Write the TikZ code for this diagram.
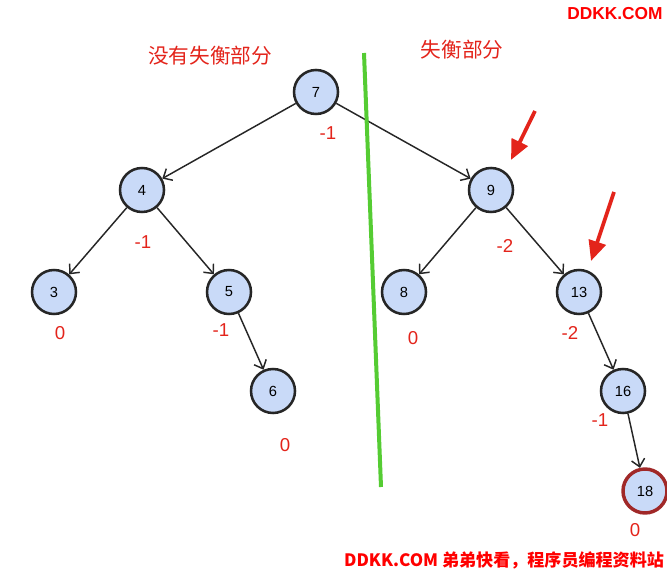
\documentclass[tikz,border=0pt]{standalone}
\usepackage{fontspec}
\setmainfont{Liberation Sans}
\newfontfamily\cjk{Noto Sans CJK SC}
\usetikzlibrary{arrows.meta, positioning}
\definecolor{nodeblue}{HTML}{C9DAF8}
\definecolor{balred}{HTML}{E3241B}
\definecolor{cutgreen}{HTML}{55CC33}
\definecolor{brickred}{HTML}{A02828}

\begin{document}
\begin{tikzpicture}[x=0.75pt, y=-0.75pt,
    avl/.style={circle, draw=black!85, fill=nodeblue, line width=1.9pt,
      minimum size=33pt, inner sep=0pt, font=\fontsize{11}{13}\selectfont},
    bal/.style={text=balred, font=\fontsize{14}{16}\selectfont},
    edge/.style={-{Straight Barb[length=5.5pt, width=10pt]}, line width=1.1pt, black!85},
    hint/.style={-{Triangle[length=15pt, width=13pt]}, line width=2.8pt, balred}]

    \useasboundingbox (0,0) rectangle (667,570);

    %% ── Tree nodes ────────────────────────────────────────────────────────
    \node[avl] (n7)  at (316, 92)  {7};
    \node[avl] (n4)  at (142,190)  {4};
    \node[avl] (n3)  at (54, 292)  {3};
    \node[avl] (n5)  at (229,292)  {5};
    \node[avl] (n6)  at (273,391)  {6};
    \node[avl] (n9)  at (491,190)  {9};
    \node[avl] (n8)  at (404,292)  {8};
    \node[avl] (n13) at (579,292)  {13};
    \node[avl] (n16) at (623,391)  {16};
    \node[avl, draw=brickred, line width=2.6pt] (n18) at (645,491) {18};

    %% Edges
    \draw[edge] (n7) -- (n4);
    \draw[edge] (n7) -- (n9);
    \draw[edge] (n4) -- (n3);
    \draw[edge] (n4) -- (n5);
    \draw[edge] (n5) -- (n6);
    \draw[edge] (n9) -- (n8);
    \draw[edge] (n9) -- (n13);
    \draw[edge] (n13) -- (n16);
    \draw[edge] (n16) -- (n18);

    %% Balance factors
    \node[bal] (b7)  at (328,133) {-1};
    \node[bal] (b4)  at (143,242) {-1};
    \node[bal] (b3)  at (60, 333) {0};
    \node[bal] (b5)  at (221,330) {-1};
    \node[bal] (b6)  at (285,445) {0};
    \node[bal] (b9)  at (505,246) {-2};
    \node[bal] (b8)  at (413,338) {0};
    \node[bal] (b13) at (570,333) {-2};
    \node[bal] (b16) at (600,420) {-1};
    \node[bal] (b18) at (635,530) {0};

    %% ═══ Split line and captions ═════════════════════════════════════════
    \coordinate (cutTop) at (364,53);
    \coordinate (cutBot) at (381,487);
    \draw[cutgreen, line width=3pt] (cutTop) -- (cutBot);

    \node[text=balred, font=\cjk\fontsize{15.5}{18}\selectfont] (leftcap)
      at (210,56) {没有失衡部分};
    \node[text=balred, font=\cjk\fontsize{15.5}{18}\selectfont] (rightcap)
      at (462,50) {失衡部分};

    % pointers at the unbalanced nodes
    \coordinate (p9)  at (535,111);
    \coordinate (q9)  at (511,160);
    \coordinate (p13) at (614,192);
    \coordinate (q13) at (591,261);
    \draw[hint] (p9) -- (q9);
    \draw[hint] (p13) -- (q13);

    %% Watermarks
    \node[text=red, font=\bfseries\fontsize{13}{15}\selectfont] (wmtop)
      at (615,14) {DDKK.COM};
    \node[text=red, font=\cjk\bfseries\fontsize{12.8}{15}\selectfont] (wmbot)
      at (504,560) {DDKK.COM 弟弟快看，程序员编程资料站};

\end{tikzpicture}
\end{document}
